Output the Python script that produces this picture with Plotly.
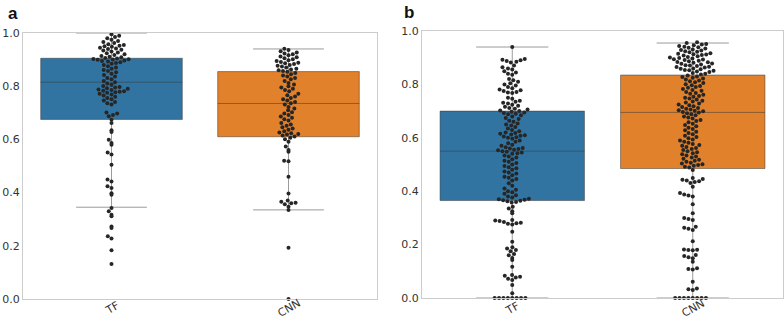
import math
import plotly.graph_objects as go

# ---------------- data ----------------
categories = ["TF", "CNN"]
panel_labels = ["a", "b"]
y_ticks = [0.0, 0.2, 0.4, 0.6, 0.8, 1.0]

# box statistics: [TF, CNN]
a_q1 = [0.675, 0.610]
a_med = [0.815, 0.735]
a_q3 = [0.905, 0.855]
a_lo = [0.345, 0.335]
a_hi = [1.000, 0.940]

b_q1 = [0.365, 0.485]
b_med = [0.550, 0.695]
b_q3 = [0.700, 0.835]
b_lo = [0.000, 0.000]
b_hi = [0.940, 0.955]

tf_a = [0.995, 0.99, 0.985, 0.98, 0.975, 0.97, 0.966, 0.962, 0.958, 0.955, 0.952, 0.95,
        0.948, 0.945, 0.942, 0.94, 0.937, 0.934, 0.93, 0.927, 0.924, 0.92, 0.917, 0.914,
        0.911, 0.909, 0.906, 0.904, 0.902, 0.901, 0.9, 0.899, 0.897, 0.895, 0.893, 0.89,
        0.887, 0.884, 0.88, 0.875, 0.87, 0.866, 0.861, 0.857, 0.852, 0.847, 0.842, 0.836,
        0.831, 0.826, 0.82, 0.815, 0.81, 0.805, 0.801, 0.797, 0.795, 0.792, 0.79, 0.788,
        0.786, 0.783, 0.781, 0.779, 0.777, 0.775, 0.772, 0.769, 0.765, 0.76, 0.756, 0.751,
        0.746, 0.741, 0.736, 0.731, 0.701, 0.697, 0.692, 0.687, 0.674, 0.662, 0.634, 0.628,
        0.599, 0.586, 0.58, 0.551, 0.543, 0.505, 0.449, 0.442, 0.424, 0.417, 0.398, 0.392,
        0.342, 0.33, 0.317, 0.311, 0.273, 0.267, 0.236, 0.227, 0.183, 0.132]

cnn_a = [0.941, 0.936, 0.931, 0.927, 0.923, 0.92, 0.916, 0.912, 0.909, 0.905, 0.901, 0.898,
         0.895, 0.891, 0.888, 0.886, 0.883, 0.88, 0.877, 0.874, 0.87, 0.866, 0.863, 0.86,
         0.857, 0.854, 0.85, 0.845, 0.84, 0.836, 0.831, 0.826, 0.82, 0.812, 0.806, 0.8,
         0.795, 0.79, 0.786, 0.781, 0.772, 0.766, 0.761, 0.756, 0.751, 0.746, 0.741, 0.736,
         0.731, 0.722, 0.716, 0.71, 0.702, 0.697, 0.692, 0.686, 0.681, 0.676, 0.671, 0.662,
         0.656, 0.651, 0.646, 0.641, 0.636, 0.631, 0.626, 0.623, 0.62, 0.618, 0.615, 0.611,
         0.606, 0.601, 0.591, 0.573, 0.56, 0.554, 0.52, 0.518, 0.46, 0.397, 0.37, 0.366,
         0.362, 0.36, 0.356, 0.347, 0.335, 0.193, 0.0]

tf_b = [0.94,
        0.895, 0.892, 0.89, 0.888, 0.885, 0.882,
        0.871, 0.864, 0.86, 0.856, 0.849, 0.845, 0.84, 0.836,
        0.82, 0.816, 0.81, 0.804, 0.8, 0.796, 0.79, 0.786, 0.781, 0.778, 0.775, 0.772, 0.77, 0.768,
        0.75, 0.746, 0.739, 0.735, 0.731, 0.728, 0.724, 0.72, 0.716, 0.712, 0.709, 0.706,
        0.702, 0.7, 0.698, 0.695, 0.693, 0.69, 0.688, 0.684, 0.68, 0.674, 0.67, 0.664, 0.66,
        0.654, 0.65, 0.646, 0.64, 0.635, 0.629, 0.625, 0.62, 0.618, 0.615, 0.612, 0.61, 0.608,
        0.605, 0.602, 0.6, 0.596, 0.59, 0.585, 0.58, 0.574, 0.57, 0.565, 0.562, 0.56, 0.558,
        0.555, 0.553, 0.55, 0.548, 0.545, 0.542, 0.54, 0.534, 0.53, 0.526, 0.52, 0.514, 0.51,
        0.506, 0.5, 0.494, 0.49, 0.486, 0.48, 0.474, 0.47, 0.466, 0.46, 0.454, 0.45, 0.446,
        0.44, 0.43, 0.42, 0.41, 0.405, 0.4, 0.396, 0.39, 0.385, 0.38, 0.376, 0.372, 0.37,
        0.368, 0.366, 0.364, 0.362, 0.36, 0.358,
        0.342, 0.335, 0.325, 0.317,
        0.292, 0.29, 0.288, 0.285, 0.282, 0.28, 0.278, 0.275,
        0.248, 0.211,
        0.19, 0.185, 0.18, 0.175, 0.165, 0.16, 0.15, 0.142,
        0.117,
        0.086, 0.083, 0.08, 0.077, 0.072, 0.067,
        0.049, 0.018,
        0.0, 0.0, 0.0, 0.0, 0.0, 0.0, 0.0, 0.0]

cnn_b = [0.958, 0.955, 0.951, 0.949, 0.947, 0.944, 0.941, 0.939, 0.937, 0.934, 0.931, 0.929,
         0.927, 0.924, 0.922, 0.92, 0.917, 0.915, 0.913, 0.912, 0.91, 0.908, 0.905, 0.903,
         0.901, 0.899, 0.897, 0.894, 0.893, 0.891, 0.889, 0.887, 0.884, 0.883, 0.881, 0.878,
         0.877, 0.875, 0.872, 0.871, 0.869, 0.866, 0.865, 0.863, 0.86, 0.859, 0.857, 0.854,
         0.853, 0.851, 0.848, 0.846, 0.843, 0.84, 0.837,
         0.833, 0.83, 0.828, 0.825, 0.822, 0.818, 0.815, 0.812, 0.808, 0.805, 0.801, 0.797,
         0.794, 0.79, 0.787, 0.783, 0.779, 0.776, 0.772, 0.768, 0.765, 0.761, 0.757, 0.754,
         0.75, 0.747, 0.743, 0.739, 0.736, 0.732, 0.728, 0.725, 0.722, 0.718, 0.715, 0.712,
         0.709, 0.706, 0.703, 0.701, 0.699, 0.697, 0.695,
         0.692, 0.688, 0.684, 0.68, 0.676, 0.672, 0.667, 0.663, 0.658, 0.653, 0.648, 0.643,
         0.638, 0.633, 0.628, 0.623, 0.618, 0.613, 0.608, 0.603, 0.598, 0.594, 0.59, 0.585,
         0.581, 0.577, 0.573, 0.57, 0.566, 0.562, 0.558, 0.554, 0.55, 0.546, 0.542, 0.538,
         0.534, 0.53, 0.526, 0.522, 0.518, 0.514, 0.51, 0.507, 0.504, 0.501, 0.498, 0.495,
         0.492, 0.489,
         0.479, 0.449, 0.446, 0.443, 0.44, 0.437, 0.434, 0.431, 0.417, 0.393, 0.388, 0.384,
         0.38, 0.351, 0.317, 0.3, 0.296, 0.292, 0.267, 0.263, 0.259, 0.255, 0.213, 0.182,
         0.181, 0.18, 0.179, 0.161, 0.157, 0.153, 0.149, 0.136, 0.111, 0.109, 0.107, 0.061,
         0.036, 0.033, 0.03,
         0.0, 0.0, 0.0, 0.0, 0.0, 0.0, 0.0, 0.0]

# ---------------- layout geometry ----------------
W, H = 784, 321
dom_a_x = [23 / W, 377 / W]
dom_a_y = [1 - 299 / H, 1 - 33 / H]
dom_b_x = [422 / W, 783 / W]
dom_b_y = [1 - 298 / H, 1 - 31 / H]

BLUE = "#3274a1"
ORANGE = "#e1812c"
BOX_LINE = "rgba(55,55,55,0.5)"
DOT = "#262626"
DOT_SIZE = 4.0
DOT_GAP = 4.4
FONT = "DejaVu Sans"


def swarm_offsets(vals, px_per_unit_y):
    """Beeswarm layout in pixel space; returns x offsets in pixels."""
    ys = [v * px_per_unit_y for v in vals]
    order = sorted(range(len(ys)), key=lambda i: ys[i])
    placed = []
    out = [0.0] * len(ys)
    d = DOT_GAP
    for i in order:
        y = ys[i]
        near = [(py, px) for (py, px) in placed if abs(py - y) < d]
        cands = [0.0]
        for py, px in near:
            dx = math.sqrt(max(d * d - (py - y) ** 2, 0.0))
            cands += [px + dx, px - dx]
        cands = sorted(set(round(c, 6) for c in cands), key=lambda c: (abs(c), c))
        chosen = 0.0
        for c in cands:
            if all((c - px) ** 2 + (y - py) ** 2 >= d * d - 1e-6 for py, px in near):
                chosen = c
                break
        placed.append((y, chosen))
        out[i] = chosen
    return out


fig = go.Figure()

panels = [
    dict(xa="x", ya="y", dx=dom_a_x, dy=dom_a_y,
         stats=(a_q1, a_med, a_q3, a_lo, a_hi), data=[tf_a, cnn_a]),
    dict(xa="x2", ya="y2", dx=dom_b_x, dy=dom_b_y,
         stats=(b_q1, b_med, b_q3, b_lo, b_hi), data=[tf_b, cnn_b]),
]
colors = [BLUE, ORANGE]

for p in panels:
    px_x = (p["dx"][1] - p["dx"][0]) * W / 2.0
    px_y = (p["dy"][1] - p["dy"][0]) * H / 1.0
    q1, med, q3, lo, hi = p["stats"]
    for k in range(2):
        fig.add_trace(go.Box(
            x=[k], q1=[q1[k]], median=[med[k]], q3=[q3[k]],
            lowerfence=[lo[k]], upperfence=[hi[k]],
            width=0.8, whiskerwidth=0.5, boxpoints=False,
            fillcolor=colors[k], line=dict(color=BOX_LINE, width=1),
            xaxis=p["xa"], yaxis=p["ya"], showlegend=False, hoverinfo="skip"))
    for k in range(2):
        vals = p["data"][k]
        offs = swarm_offsets(vals, px_y)
        xs = [k + o / px_x for o in offs]
        fig.add_trace(go.Scatter(
            x=xs, y=vals, mode="markers",
            marker=dict(color=DOT, size=DOT_SIZE, line=dict(width=0)),
            xaxis=p["xa"], yaxis=p["ya"], showlegend=False, cliponaxis=False,
            hoverinfo="skip"))

axis_common = dict(showline=True, mirror=True, linecolor="#cccccc", linewidth=1,
                   showgrid=False, zeroline=False, ticks="", automargin=False)
fig.update_layout(
    width=W, height=H, margin=dict(l=0, r=0, t=0, b=0, autoexpand=False),
    paper_bgcolor="white", plot_bgcolor="white",
    font=dict(family=FONT, size=11, color="#333333"),
    xaxis=dict(domain=dom_a_x, range=[-0.5, 1.5], tickvals=[0, 1], ticktext=categories,
               showticklabels=False, anchor="y", **axis_common),
    yaxis=dict(domain=dom_a_y, range=[0, 1], tickvals=y_ticks, tickformat=".1f",
               anchor="x", ticklabelstandoff=0, **axis_common),
    xaxis2=dict(domain=dom_b_x, range=[-0.5, 1.5], tickvals=[0, 1], ticktext=categories,
                showticklabels=False, anchor="y2", **axis_common),
    yaxis2=dict(domain=dom_b_y, range=[0, 1], tickvals=y_ticks, tickformat=".1f",
                anchor="x2", ticklabelstandoff=0, **axis_common),
)

annotations = []
for xr, ycen in (("x", 308), ("x2", 308)):
    for k, lab in enumerate(categories):
        annotations.append(dict(
            x=k, xref=xr, y=1 - ycen / H, yref="paper", text=lab, showarrow=False,
            textangle=-30, xanchor="center", yanchor="middle",
            font=dict(family=FONT, size=11, color="#333333")))
annotations.append(dict(x=6 / W, y=1 - 2 / H, xref="paper", yref="paper", text="<b>a</b>",
                        showarrow=False, xanchor="left", yanchor="top",
                        font=dict(family="Liberation Sans", size=17, color="#111111")))
annotations.append(dict(x=402 / W, y=1 - 1 / H, xref="paper", yref="paper", text="<b>b</b>",
                        showarrow=False, xanchor="left", yanchor="top",
                        font=dict(family="Liberation Sans", size=17, color="#111111")))
fig.update_layout(annotations=annotations)

fig.write_html("out.html", config={"displayModeBar": False},
               post_script="document.body.style.margin='0';document.body.style.overflow='hidden';")
